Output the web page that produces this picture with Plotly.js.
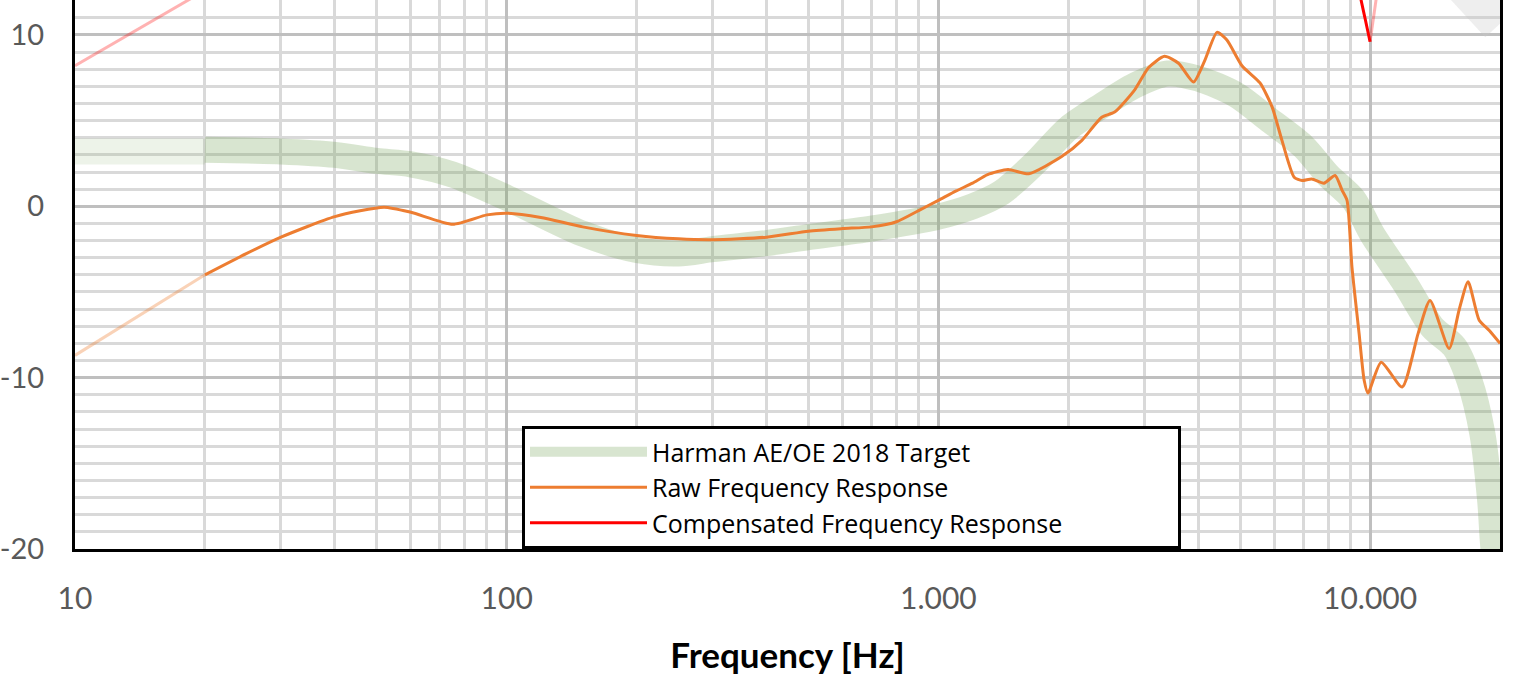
<!DOCTYPE html>
<html>
<head>
<meta charset="utf-8">
<script src="https://cdn.plot.ly/plotly-3.0.1.min.js"></script>
<style>html,body{margin:0;padding:0;background:#fff;}#chart{width:1516px;height:678px;}</style>
</head>
<body>
<div id="chart"></div>
<script>
// ---- Data ----
const targetFreq = [20,25,30,40,50,60,75,100,150,200,250,300,400,500,700,1000,1200,1400,1670,2000,2400,2850,3400,4000,4900,5800,7000,8000,9150,10100,12050,13930,15670,16980,18200,18980,19300,20000];
const targetDb   = [3.3,3.25,3.2,3.0,2.65,2.45,1.85,0.5,-1.6,-2.55,-2.75,-2.5,-2.15,-1.8,-1.3,-0.6,0.0,0.8,2.5,4.55,5.9,7.05,7.75,7.45,6.5,5.1,3.5,1.8,0.4,-1.6,-4.5,-7.05,-8.2,-10.15,-13.25,-17.2,-19.9,-23];
const targetExtFreq = [10,20];
const targetExtDb   = [3.2,3.2];

const rawFreq = [20,25,30,40,52,60,75,90,100,120,150,200,250,300,400,500,600,700,800,900,1000,1100,1200,1300,1450,1620,1930,2150,2390,2560,2850,3070,3340,3600,3900,4140,4420,4660,5050,5560,5930,6250,6670,6960,7330,7820,8300,8610,8845,9080,9430,9690,9890,10610,11870,12930,13770,15250,16080,16870,17900,18890,20000];
const rawDb   = [-4.0,-2.75,-1.8,-0.6,-0.05,-0.35,-1.05,-0.5,-0.4,-0.65,-1.2,-1.7,-1.9,-1.95,-1.8,-1.45,-1.3,-1.2,-0.9,-0.25,0.35,0.9,1.35,1.85,2.15,1.9,2.9,3.85,5.2,5.5,6.8,8.1,8.75,8.35,7.25,8.5,10.15,9.7,8.2,7.2,5.8,3.85,1.7,1.5,1.6,1.35,1.8,0.95,0.35,-3.55,-7.4,-10.15,-10.9,-9.1,-10.55,-7.4,-5.5,-8.3,-6.05,-4.4,-6.65,-7.25,-8.0];
const rawExtFreq = [10,20];
const rawExtDb   = [-8.7,-4.0];

const compFreq = [9300,9540,9750,10000];
const compDb   = [13.4,12.0,10.9,9.6];
const compExtHighFreq = [10000,10400];
const compExtHighDb   = [9.6,12.6];
const compExtLowFreq  = [10,20];
const compExtLowDb    = [8.2,12.6];

const bandFreq = [14000,20000];
const bandDb   = [14.9,10.65];

const seriesNames = ['Harman AE/OE 2018 Target','Raw Frequency Response','Compensated Frequency Response'];
const xTickVals = [10,100,1000,10000];
const xTickText = ['10','100','1.000','10.000'];
const xMinorVals = [20,30,40,50,60,70,80,90,200,300,400,500,600,700,800,900,2000,3000,4000,5000,6000,7000,8000,9000,20000];
const yTickVals = [-20,-10,0,10];
const yTickText = ['-20','-10','0','10'];

// ---- Styles ----
const FONT = 'Lato, "Open Sans", sans-serif';
const LEGEND_FONT = '"Open Sans", Lato, sans-serif';
const GREEN = 'rgba(115,160,85,0.28)';
const GREEN_LIGHT = 'rgba(115,160,85,0.13)';
const ORANGE = '#ED7D31';
const ORANGE_LIGHT = 'rgba(237,125,49,0.35)';
const RED = '#FF0000';
const RED_LIGHT = 'rgba(255,0,0,0.3)';
const PAD = '\u00a0'.repeat(17);

const traces = [
  {x: targetExtFreq, y: targetExtDb, mode:'lines', line:{color:GREEN_LIGHT, width:26}, showlegend:false, hoverinfo:'skip'},
  {x: targetFreq, y: targetDb, name: seriesNames[0], mode:'lines', line:{color:GREEN, width:26, shape:'spline', smoothing:0.8}},
  {x: bandFreq, y: bandDb, mode:'lines', line:{color:'rgba(200,200,200,0.3)', width:40}, showlegend:false, hoverinfo:'skip'},
  {x: rawExtFreq, y: rawExtDb, mode:'lines', line:{color:ORANGE_LIGHT, width:3}, showlegend:false, hoverinfo:'skip'},
  {x: rawFreq, y: rawDb, name: seriesNames[1], mode:'lines', line:{color:ORANGE, width:3, shape:'spline', smoothing:0.6}},
  {x: compExtLowFreq, y: compExtLowDb, mode:'lines', line:{color:RED_LIGHT, width:3}, showlegend:false, hoverinfo:'skip'},
  {x: compExtHighFreq, y: compExtHighDb, mode:'lines', line:{color:RED_LIGHT, width:3}, showlegend:false, hoverinfo:'skip'},
  {x: compFreq, y: compDb, name: seriesNames[2] + PAD, mode:'lines', line:{color:RED, width:3, shape:'spline', smoothing:0.6}}
];

const layout = {
  width:1516, height:678,
  margin:{l:75, r:16, t:0, b:129},
  paper_bgcolor:'#fff', plot_bgcolor:'#fff',
  font:{family:FONT, color:'#595959'},
  showlegend:true,
  legend:{
    x:(522-75)/1425, y:0, xanchor:'left', yanchor:'bottom',
    bgcolor:'#fff', bordercolor:'#000', borderwidth:3,
    font:{family:LEGEND_FONT, size:25, color:'#000'},
    itemwidth:117, tracegroupgap:0
  },
  xaxis:{
    type:'log', range:[1, Math.log10(20000)],
    tickmode:'array', tickvals:xTickVals, ticktext:xTickText,
    tickfont:{family:FONT, size:30, color:'#595959'},
    ticks:'', ticklabelstandoff:21,
    showgrid:true, gridcolor:'#bfbfbf', gridwidth:3,
    minor:{tickmode:'array', tickvals:xMinorVals, showgrid:true, gridcolor:'#d9d9d9', gridwidth:3, ticks:''},
    showline:true, linecolor:'#000', linewidth:3, mirror:false,
    zeroline:false,
    title:{text:'Frequency [Hz]', font:{family:FONT, size:35, color:'#000', weight:'bold'}, standoff:30}
  },
  yaxis:{
    range:[-20, 12.04],
    tickmode:'array', tickvals:yTickVals, ticktext:yTickText,
    tickfont:{family:FONT, size:29, color:'#595959'},
    ticks:'', ticklabelstandoff:22,
    showgrid:true, gridcolor:'#bfbfbf', gridwidth:3,
    minor:{dtick:1, showgrid:true, gridcolor:'#d9d9d9', gridwidth:3, ticks:''},
    showline:true, linecolor:'#000', linewidth:3, mirror:true,
    zeroline:false
  }
};

Plotly.newPlot('chart', traces, layout, {displayModeBar:false, staticPlot:true});
</script>
</body>
</html>
